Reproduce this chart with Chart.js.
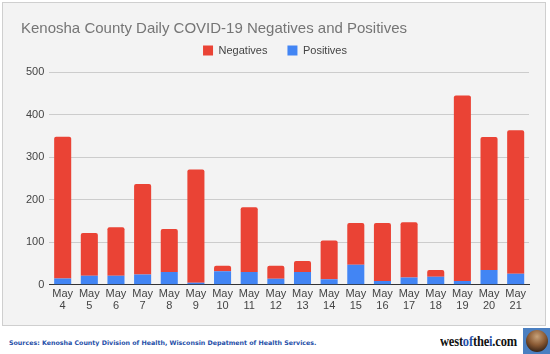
<!DOCTYPE html>
<html>
<head>
<meta charset="utf-8">
<script src="https://cdn.jsdelivr.net/npm/chart.js@4/dist/chart.umd.min.js"></script>
<style>
  body { margin: 0; background: #fff; width: 550px; height: 354px; overflow: hidden; position: relative; font-family: "Liberation Sans", Arial, sans-serif; }
  .panel { position: absolute; left: 2px; top: 2px; width: 542px; height: 322px; background: #f3f3f3; border: 1px solid #cfcfcf; }
  .panel canvas { display: block; }
  .source { position: absolute; left: 9px; top: 339px; font-family: "DejaVu Sans", Verdana, sans-serif; font-size: 6.3px; font-weight: bold; color: #1f4fa8; }
  .brand { position: absolute; left: 440px; top: 333px; font-family: "Liberation Serif", "DejaVu Serif", serif; font-weight: bold; font-size: 14.5px; color: #111;
    letter-spacing: -0.2px; transform: scaleX(0.86); transform-origin: left top; white-space: nowrap; }
  .brand .b { color: #1f4fa8; }
  .globe { position: absolute; left: 523px; top: 328px; width: 27px; height: 26px; background: #4a7fc1; }
  .globe div { position: absolute; left: 3px; top: 2px; width: 22px; height: 22px; border-radius: 50%;
    background: radial-gradient(circle at 50% 30%, #c7a27a 0%, #8a5a34 45%, #3b2618 80%); }
</style>
</head>
<body>
<div class="panel"><canvas id="chart" width="542" height="322"></canvas></div>
<div class="source">Sources: Kenosha County Division of Health, Wisconsin Depatment of Health Services.</div>
<div class="brand">west<span class="b">of</span>the<span class="b">i</span>.com</div>
<div class="globe"><div></div></div>
<script>
const days = ["4", "5", "6", "7", "8", "9", "10", "11", "12", "13", "14", "15", "16", "17", "18", "19", "20", "21"];
const positives = [15, 21, 21, 24, 30, 5, 32, 30, 14, 30, 13, 47, 9, 17, 19, 9, 35, 26];
const negatives = [333, 101, 114, 213, 101, 266, 13, 152, 31, 26, 91, 98, 136, 130, 16, 436, 312, 337];
const yTicks = [0, 100, 200, 300, 400, 500];

const labels = days.map(d => ["May", d]);
const tickFont = { family: "'Liberation Sans', Arial, sans-serif", size: 11 };

const chart = new Chart(document.getElementById("chart"), {
  type: "bar",
  data: {
    labels: labels,
    datasets: [
      {
        label: "Positives",
        data: positives,
        backgroundColor: "#4285f4",
        barPercentage: 0.64,
        categoryPercentage: 1
      },
      {
        label: "Negatives",
        data: negatives,
        backgroundColor: "#ea4335",
        borderRadius: { topLeft: 2, topRight: 2 },
        borderSkipped: false,
        barPercentage: 0.64,
        categoryPercentage: 1
      }
    ]
  },
  options: {
    responsive: false,
    animation: false,
    layout: { padding: { left: 18, right: 16, top: 4, bottom: 10 } },
    plugins: {
      title: {
        display: true,
        text: "Kenosha County Daily COVID-19 Negatives and Positives",
        align: "start",
        color: "#757575",
        font: { family: "'Liberation Sans', Arial, sans-serif", size: 15, weight: "normal" },
        padding: { top: 13, bottom: -13 }
      },
      legend: {
        reverse: true,
        labels: {
          boxWidth: 10,
          boxHeight: 10,
          color: "#444",
          font: { family: "'Liberation Sans', Arial, sans-serif", size: 11 },
          padding: 20
        }
      },
      tooltip: { enabled: false }
    },
    scales: {
      x: {
        stacked: true,
        grid: { display: false, drawTicks: false },
        border: { color: "#333", width: 1 },
        ticks: { color: "#444", font: { ...tickFont, lineHeight: 1.1 }, maxRotation: 0, autoSkip: false, padding: 3 }
      },
      y: {
        stacked: true,
        min: 0,
        max: 500,
        afterBuildTicks: axis => { axis.ticks = yTicks.map(v => ({ value: v })); },
        grid: { color: "#cccccc", drawTicks: false },
        border: { display: false },
        ticks: { color: "#444", font: tickFont, padding: 5 }
      }
    }
  }
});

// a bit more room under the legend, like the original
const legendFit = chart.legend.fit;
chart.legend.fit = function () {
  legendFit.call(this);
  this.height += 6;
};
chart.update();
</script>
</body>
</html>
